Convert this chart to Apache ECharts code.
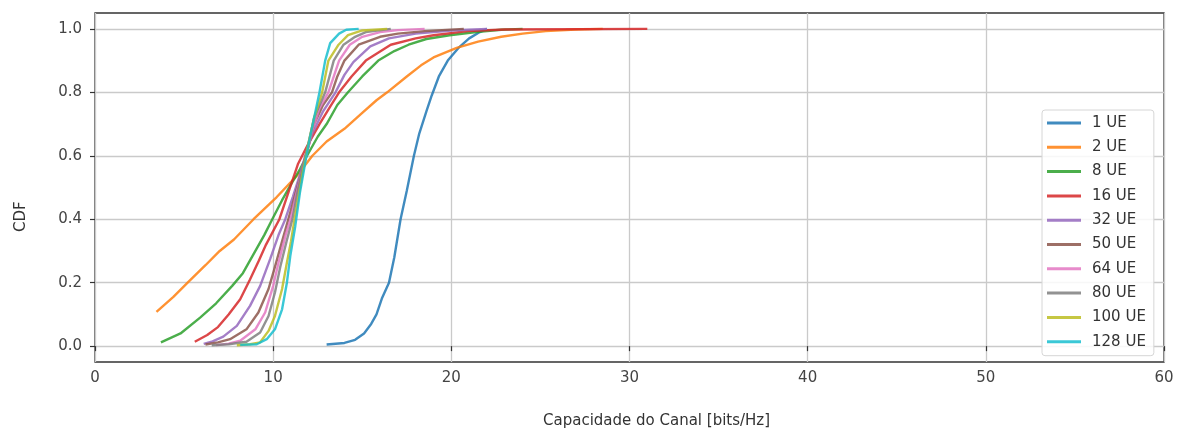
<!DOCTYPE html>
<html>
<head>
<meta charset="utf-8">
<script src="https://cdn.jsdelivr.net/npm/echarts@6/dist/echarts.min.js"></script>
<style>
  html, body { margin: 0; padding: 0; background: #fff; }
  #chart { width: 1181px; height: 437px; }
</style>
</head>
<body>
<div id="chart"></div>
<script>
// CDF da capacidade do canal, pares [capacidade, cdf]
var ue1 = [[13.0,0.005],[14.0,0.01],[14.6,0.02],[15.1,0.04],[15.5,0.07],[15.8,0.1],[16.1,0.15],[16.5,0.2],[16.8,0.28],[17.15,0.4],[17.5,0.49],[17.9,0.6],[18.2,0.67],[18.6,0.74],[18.9,0.79],[19.3,0.85],[19.8,0.9],[20.4,0.94],[21.0,0.97],[21.6,0.99],[22.0,1.0]];
var ue2 = [[3.45,0.108],[4.4,0.155],[5.2,0.2],[6.2,0.255],[7.0,0.3],[7.8,0.336],[8.9,0.4],[10.2,0.47],[11.3,0.535],[12.2,0.6],[13.0,0.645],[14.0,0.685],[15.0,0.735],[15.8,0.775],[16.4,0.8],[17.5,0.85],[18.3,0.885],[19.0,0.91],[20.3,0.94],[21.5,0.96],[22.8,0.975],[24.0,0.985],[25.3,0.993],[27.0,0.998],[28.5,1.0]];
var ue8 = [[3.7,0.012],[4.8,0.04],[5.9,0.09],[6.8,0.135],[7.7,0.19],[8.3,0.23],[8.9,0.29],[9.5,0.35],[9.95,0.4],[10.5,0.46],[11.0,0.51],[11.5,0.557],[11.9,0.6],[12.5,0.66],[13.0,0.7],[13.6,0.76],[14.2,0.8],[15.0,0.85],[15.9,0.9],[16.8,0.93],[17.6,0.95],[18.6,0.968],[19.9,0.98],[21.4,0.99],[22.8,0.997],[24.0,1.0]];
var ue16 = [[5.6,0.014],[6.3,0.035],[6.9,0.06],[7.5,0.1],[8.15,0.148],[8.7,0.21],[9.2,0.27],[9.6,0.32],[10.35,0.4],[10.8,0.475],[11.4,0.575],[11.9,0.63],[12.6,0.7],[13.2,0.755],[13.7,0.8],[14.4,0.85],[15.2,0.9],[16.6,0.95],[18.0,0.97],[19.0,0.98],[20.9,0.993],[23.0,0.998],[31.0,1.0]];
var ue32 = [[6.1,0.007],[6.6,0.015],[7.2,0.03],[7.96,0.064],[8.7,0.127],[9.27,0.19],[9.83,0.274],[10.3,0.35],[10.68,0.4],[11.1,0.47],[11.5,0.54],[11.8,0.6],[12.2,0.67],[12.8,0.74],[13.5,0.8],[14.0,0.855],[14.5,0.895],[15.45,0.945],[16.5,0.97],[18.0,0.985],[20.0,0.995],[22.0,1.0]];
var ue50 = [[6.2,0.005],[6.9,0.012],[7.58,0.022],[8.5,0.053],[9.17,0.106],[9.74,0.18],[10.1,0.25],[10.5,0.33],[10.85,0.4],[11.2,0.47],[11.55,0.54],[11.85,0.6],[12.3,0.7],[12.8,0.76],[13.3,0.8],[13.6,0.85],[14.0,0.9],[14.8,0.95],[16.0,0.975],[17.0,0.985],[18.5,0.993],[20.7,1.0]];
var ue64 = [[6.8,0.003],[7.5,0.008],[8.15,0.017],[9.0,0.053],[9.55,0.106],[10.0,0.19],[10.3,0.263],[10.7,0.35],[10.98,0.4],[11.3,0.48],[11.6,0.55],[11.85,0.6],[12.2,0.68],[12.6,0.75],[13.1,0.8],[13.7,0.9],[14.3,0.95],[15.0,0.975],[16.0,0.99],[17.0,0.996],[18.5,1.0]];
var ue80 = [[6.55,0.003],[7.5,0.006],[8.5,0.014],[9.27,0.043],[9.74,0.095],[10.1,0.169],[10.4,0.25],[10.75,0.33],[11.08,0.4],[11.35,0.48],[11.65,0.56],[11.9,0.62],[12.3,0.72],[12.92,0.8],[13.4,0.9],[13.95,0.95],[14.6,0.975],[15.2,0.99],[16.6,1.0]];
var ue100 = [[7.96,0.003],[8.7,0.006],[9.27,0.012],[9.74,0.048],[10.1,0.095],[10.5,0.18],[10.77,0.263],[11.0,0.33],[11.2,0.4],[11.45,0.48],[11.7,0.56],[11.95,0.63],[12.3,0.72],[12.75,0.8],[13.1,0.9],[13.67,0.95],[14.2,0.98],[15.0,0.995],[16.4,1.0]];
var ue128 = [[8.15,0.004],[9.08,0.006],[9.64,0.022],[10.1,0.053],[10.5,0.116],[10.77,0.2],[10.96,0.284],[11.24,0.378],[11.5,0.483],[11.8,0.578],[12.0,0.64],[12.3,0.72],[12.6,0.8],[12.92,0.9],[13.2,0.955],[13.7,0.985],[14.1,0.997],[14.8,1.0]];

var seriesNames = ['1 UE', '2 UE', '8 UE', '16 UE', '32 UE', '50 UE', '64 UE', '80 UE', '100 UE', '128 UE'];
var seriesData = [ue1, ue2, ue8, ue16, ue32, ue50, ue64, ue80, ue100, ue128];
var yTicks = [0, 0.2, 0.4, 0.6, 0.8, 1.0];

// cores padrão do matplotlib (tab10)
var colors = ['#1f77b4', '#ff7f0e', '#2ca02c', '#d62728', '#9467bd', '#8c564b', '#e377c2', '#7f7f7f', '#bcbd22', '#17becf'];

var chart = echarts.init(document.getElementById('chart'), null, { renderer: 'canvas' });

var series = seriesNames.map(function (name, i) {
  return {
    name: name,
    type: 'line',
    symbol: 'none',
    smooth: false,
    data: seriesData[i],
    lineStyle: { width: 2.4, opacity: 0.85 },
    itemStyle: { color: colors[i], opacity: 0.85 },
    emphasis: { disabled: true }
  };
});

var font = 'DejaVu Sans';

var option = {
  animation: false,
  color: colors,
  grid: {
    left: 95,
    right: 17,
    top: 13,
    bottom: 75,
    show: true,
    borderColor: '#333',
    borderWidth: 1.3,
    backgroundColor: 'transparent'
  },
  legend: {
    orient: 'vertical',
    left: 1042,
    top: 110,
    padding: [5, 8, 6, 5],
    itemGap: 8.3,
    itemWidth: 34,
    itemHeight: 3,
    icon: 'rect',
    backgroundColor: 'rgba(255,255,255,0.85)',
    borderColor: '#d6d6d6',
    borderWidth: 1,
    borderRadius: 3,
    textStyle: { fontFamily: font, fontSize: 15, color: '#333', lineHeight: 16, padding: [0, 0, 0, 6] },
    data: seriesNames
  },
  xAxis: {
    type: 'value',
    min: 0,
    max: 60,
    interval: 10,
    axisLine: { show: false },
    axisTick: { show: true, length: 5, lineStyle: { color: '#333', width: 1.2 } },
    axisLabel: { fontFamily: font, fontSize: 15, color: '#444', margin: 9 },
    splitLine: { show: true, lineStyle: { color: '#cacaca', width: 1.3 } }
  },
  yAxis: {
    type: 'value',
    min: -0.05,
    max: 1.05,
    axisLine: { show: false },
    axisTick: { show: true, length: 5, customValues: yTicks, lineStyle: { color: '#333', width: 1.2 } },
    axisLabel: {
      fontFamily: font, fontSize: 15, color: '#444', margin: 13,
      customValues: yTicks,
      formatter: function (v) { return v.toFixed(1); }
    },
    splitLine: { show: true, lineStyle: { color: '#cacaca', width: 1.3 } }
  },
  graphic: [
    {
      type: 'text',
      left: 543,
      top: 414,
      style: { text: 'Capacidade do Canal [bits/Hz]', fontFamily: font, fontSize: 15, fill: '#333' }
    },
    {
      type: 'text',
      x: 14,
      y: 232,
      rotation: Math.PI / 2,
      style: { text: 'CDF', fontFamily: font, fontSize: 15, fill: '#333' }
    }
  ],
  series: series
};

chart.setOption(option);
</script>
</body>
</html>
